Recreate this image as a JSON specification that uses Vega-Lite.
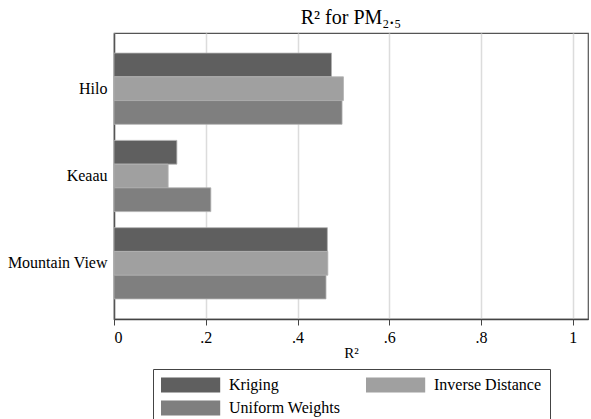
{
  "$schema": "https://vega.github.io/schema/vega-lite/v6.json",
  "autosize": {"type": "none"},
  "padding": {"left": 114, "top": 33, "right": 3, "bottom": 100},
  "width": 474,
  "height": 286,
  "background": "white",
  "title": {
    "text": "R² for PM₂.₅",
    "font": "Liberation Serif",
    "fontSize": 20,
    "fontWeight": "normal",
    "color": "#000",
    "anchor": "middle",
    "offset": 5
  },
  "config": {
    "view": {"stroke": "#555", "strokeWidth": 1.2},
    "font": "Liberation Serif",
    "axis": {"labelFont": "Liberation Serif", "titleFont": "Liberation Serif", "labelFontSize": 15, "titleFontSize": 15},
    "legend": {"labelFont": "Liberation Serif", "labelFontSize": 15}
  },
  "data": {
    "values": [
      {"site": "Hilo", "method": "Kriging", "r2": 0.474},
      {"site": "Hilo", "method": "Inverse Distance", "r2": 0.500},
      {"site": "Hilo", "method": "Uniform Weights", "r2": 0.497},
      {"site": "Keaau", "method": "Kriging", "r2": 0.137},
      {"site": "Keaau", "method": "Inverse Distance", "r2": 0.118},
      {"site": "Keaau", "method": "Uniform Weights", "r2": 0.211},
      {"site": "Mountain View", "method": "Kriging", "r2": 0.465},
      {"site": "Mountain View", "method": "Inverse Distance", "r2": 0.466},
      {"site": "Mountain View", "method": "Uniform Weights", "r2": 0.462}
    ]
  },
  "mark": {"type": "bar", "stroke": "#b0b0b0", "strokeWidth": 0.8},
  "encoding": {
    "y": {
      "field": "site",
      "type": "nominal",
      "sort": ["Hilo", "Keaau", "Mountain View"],
      "scale": {"paddingInner": 0.184, "paddingOuter": 0.23},
      "axis": {
        "title": null,
        "ticks": false,
        "labelFont": "Liberation Serif",
        "labelFontSize": 16,
        "labelColor": "#000",
        "labelPadding": 7,
        "domainColor": "#555",
        "domainWidth": 1.5
      }
    },
    "yOffset": {
      "field": "method",
      "type": "nominal",
      "sort": ["Kriging", "Inverse Distance", "Uniform Weights"],
      "scale": {"paddingInner": 0, "paddingOuter": 0}
    },
    "x": {
      "field": "r2",
      "type": "quantitative",
      "scale": {"domain": [0, 1.033], "nice": false},
      "axis": {
        "title": "R²",
        "values": [0, 0.2, 0.4, 0.6, 0.8, 1],
        "labelExpr": "datum.value == 0 ? '0' : datum.value == 1 ? '1' : replace(format(datum.value, '.1f'), '0.', '.')",
        "labelFont": "Liberation Serif",
        "labelFontSize": 16,
        "labelColor": "#000",
        "labelPadding": 4,
        "titleFont": "Liberation Serif",
        "titleFontSize": 15,
        "titleFontWeight": "normal",
        "titleColor": "#000",
        "titlePadding": 0,
        "tickSize": 6,
        "tickColor": "#444",
        "domainColor": "#444",
        "domainWidth": 1.5,
        "grid": true,
        "gridColor": "#dcdcdc",
        "gridWidth": 1.5
      }
    },
    "color": {
      "field": "method",
      "type": "nominal",
      "sort": ["Kriging", "Inverse Distance", "Uniform Weights"],
      "scale": {
        "domain": ["Kriging", "Inverse Distance", "Uniform Weights"],
        "range": ["#5f5f5f", "#a0a0a0", "#7f7f7f"]
      },
      "legend": {
        "title": null,
        "orient": "none",
        "legendX": 39,
        "legendY": 336,
        "direction": "horizontal",
        "columns": 2,
        "columnPadding": 25,
        "rowPadding": 7,
        "padding": 8,
        "strokeColor": "#444",
        "symbolType": "M-1,-0.94H6.4V0.94H-1Z",
        "symbolSize": 256,
        "symbolStrokeWidth": 0,
        "symbolOpacity": 1,
        "labelFont": "Liberation Serif",
        "labelFontSize": 16,
        "labelColor": "#000",
        "labelOffset": 52,
        "labelLimit": 300
      }
    }
  }
}
